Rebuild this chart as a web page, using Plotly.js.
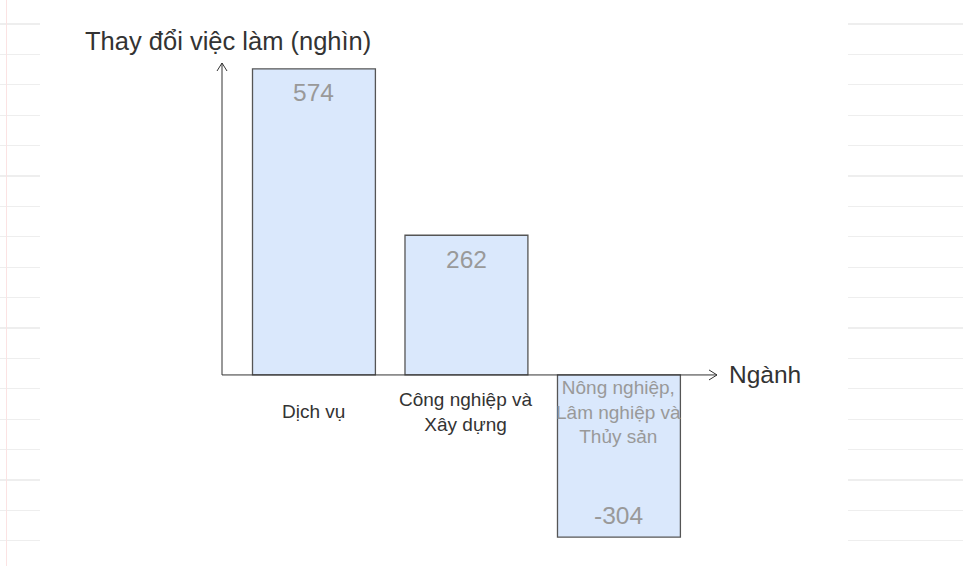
<!DOCTYPE html>
<html>
<head>
<meta charset="utf-8">
<script src="https://cdn.plot.ly/plotly-3.0.1.min.js"></script>
<style>
  html, body { margin: 0; padding: 0; background: #fff; }
  #wrap { position: relative; width: 963px; height: 566px; }
  .strip {
    position: absolute; top: 0; height: 566px;
    background: repeating-linear-gradient(to bottom,
      transparent 0px, transparent 23.5px,
      #eeeeee 23.5px, #eeeeee 24.7px,
      transparent 24.7px, transparent 30.4px);
  }
  #stripL { left: 0; width: 40px; }
  #stripR { left: 848px; width: 115px; }
  #margin { position: absolute; left: 6px; top: 0; width: 1px; height: 566px; background: #fbe3e3; }
  #chart { position: absolute; left: 0; top: 0; width: 963px; height: 566px; }
</style>
</head>
<body>
<div id="wrap">
  <div class="strip" id="stripL"></div>
  <div class="strip" id="stripR"></div>
  <div id="margin"></div>
  <div id="chart"></div>
</div>
<script>
// employment change by sector (thousand)
const sectors = ["Dịch vụ", "Công nghiệp và<br>Xây dựng", "Nông nghiệp,<br>Lâm nghiệp và<br>Thủy sản"];
const changes = [574, 262, -304];
const labelColors = ["#333333", "#333333", "#999999"];

const yTitle = "Thay đổi việc làm (nghìn)";
const xTitle = "Ngành";

const FONT = "Arial, 'Liberation Sans', sans-serif";
const yRange = [-320.8, 585];
const xRange = [-0.603, 2.643];

const barTrace = {
  type: "bar",
  x: sectors,
  y: changes,
  marker: {
    color: "#dae8fc",
    line: { color: "#555555", width: 1.3 }
  },
  hoverinfo: "none"
};

const annotations = [];

// value labels inside the bars, near the outer end
changes.forEach((v, i) => {
  annotations.push({
    x: sectors[i],
    y: v,
    xref: "x",
    yref: "y",
    text: String(v),
    showarrow: false,
    yanchor: "middle",
    yshift: v >= 0 ? -24 : 22,
    font: { family: FONT, size: 24.5, color: "#999999" }
  });
});

// category names below the zero line
sectors.forEach((s, i) => {
  annotations.push({
    x: s,
    y: 0,
    xref: "x",
    yref: "y",
    text: s,
    showarrow: false,
    yanchor: "middle",
    yshift: -37,
    font: { family: FONT, size: 19, color: labelColors[i] }
  });
});

// axis titles
annotations.push(
  {
    x: 0, y: 1, xref: "paper", yref: "paper",
    text: yTitle, showarrow: false,
    xanchor: "center", yanchor: "middle",
    xshift: 6, yshift: 22,
    font: { family: FONT, size: 25.5, color: "#333333" }
  },
  {
    x: 1, y: 0, xref: "paper", yref: "y",
    text: xTitle, showarrow: false,
    xanchor: "left", yanchor: "middle",
    xshift: 10,
    font: { family: FONT, size: 24.5, color: "#333333" }
  }
);

const axisColor = "#333333";
const shapes = [
  // y axis
  { type: "line", xref: "paper", yref: "y", x0: 0, x1: 0, y0: 0, y1: yRange[1],
    line: { color: axisColor, width: 1 } },
  // x axis
  { type: "line", xref: "paper", yref: "y", x0: 0, x1: 1, y0: 0, y1: 0,
    line: { color: axisColor, width: 1 } },
  // arrow heads
  { type: "path", xref: "paper", yref: "y", xsizemode: "pixel", ysizemode: "pixel",
    xanchor: 0, yanchor: yRange[1], path: "M-5,-8L0,0L5,-8",
    line: { color: axisColor, width: 1 } },
  { type: "path", xref: "paper", yref: "y", xsizemode: "pixel", ysizemode: "pixel",
    xanchor: 1, yanchor: 0, path: "M-8,5L0,0L-8,-5",
    line: { color: axisColor, width: 1 } }
];

const layout = {
  width: 963,
  height: 566,
  margin: { l: 222, r: 246, t: 63, b: 20 },
  paper_bgcolor: "rgba(0,0,0,0)",
  plot_bgcolor: "rgba(0,0,0,0)",
  bargap: 0.194,
  showlegend: false,
  xaxis: {
    type: "category",
    range: xRange,
    showticklabels: false,
    showgrid: false,
    zeroline: false,
    showline: false,
    ticks: ""
  },
  yaxis: {
    range: yRange,
    visible: false,
    showgrid: false,
    zeroline: false
  },
  annotations: annotations,
  shapes: shapes
};

Plotly.newPlot("chart", [barTrace], layout, {
  displayModeBar: false,
  staticPlot: true
});
</script>
</body>
</html>
